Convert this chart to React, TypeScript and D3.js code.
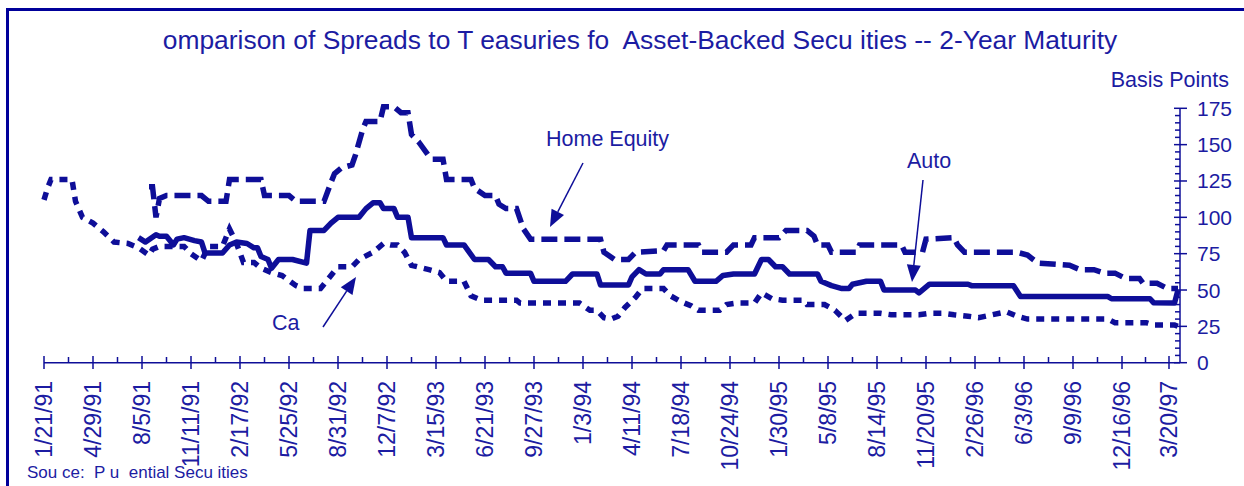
import React from "react";
import * as d3 from "d3";

// weekly spreads, [weeks since 1/21/91, basis points]
const homeEquity: [number, number][] = [
  [30, 121], [31, 121], [32, 100], [33, 113], [35, 115], [45, 115], [47, 111],
  [52, 111], [53, 126], [62, 126], [63, 115], [70, 115], [72, 111], [80, 111],
  [82, 124], [83, 130], [85, 134], [88, 136], [89, 143], [91, 160], [92, 166],
  [96, 166], [97, 176], [100, 176], [102, 172], [104, 172], [105, 157], [107, 152],
  [110, 142], [111, 140], [114, 140], [115, 126], [122, 126], [123, 120], [126, 115],
  [129, 115], [130, 109], [132, 106], [135, 106], [137, 92], [139, 85], [159, 85],
  [160, 76], [163, 71], [167, 71], [169, 76], [177, 77], [178, 81], [187, 81],
  [188, 76], [195, 76], [197, 81], [202, 81], [203, 86], [210, 86], [212, 91],
  [218, 91], [220, 87], [221, 81], [224, 81], [225, 76], [232, 76], [233, 81],
  [245, 81], [246, 76], [251, 76], [252, 85], [260, 86], [261, 81], [263, 76],
  [278, 76], [281, 74], [284, 68.5], [293, 67], [296, 64], [300, 64], [303, 61.6],
  [306, 61.6], [309, 58], [313, 58], [314, 54.7], [318, 54.7], [321, 51], [324, 51],
];

const auto: [number, number][] = [
  [27, 86], [29, 83], [32, 88], [33, 87], [35, 87], [37, 81], [38, 85], [40, 86],
  [43, 84], [45, 83], [46, 75.5], [51, 75.5], [53, 81], [55, 83], [58, 82], [60, 79],
  [61, 79], [62, 73], [64, 71], [65, 65], [67, 71], [71, 71], [75, 68.5], [76, 91],
  [80, 91], [82, 96], [84, 100], [90, 100], [92, 106], [94, 110], [96, 110], [97, 106],
  [100, 106], [101, 100], [104, 100], [105, 86], [114, 86], [115, 81], [120, 81],
  [123, 71], [127, 71], [129, 66], [131, 66], [132, 61.6], [139, 61.6], [140, 56],
  [149, 56], [151, 61], [158, 61], [159, 53.5], [167, 53.5], [168, 59], [170, 64],
  [172, 61], [176, 61], [177, 64], [184, 64], [186, 56], [192, 56], [194, 60],
  [197, 61], [203, 61], [205, 71], [207, 71], [209, 66], [211, 66], [213, 61],
  [221, 61], [222, 56], [225, 53], [228, 51], [230, 51], [231, 54], [235, 56],
  [239, 56], [240, 50], [249, 50], [250, 48], [253, 54], [264, 54], [265, 53],
  [277, 53], [279, 45.5], [304, 45.5], [305, 44], [316, 44], [317, 41.3], [323, 41],
  [324, 50],
];

const card: [number, number][] = [
  [0, 112], [1, 120], [2, 126], [8, 126], [9, 111], [11, 100], [14, 96], [17, 90],
  [20, 83], [24, 82], [27, 79], [30, 74], [31, 78], [33, 80], [40, 80], [42, 75],
  [45, 70], [47, 80], [51, 80], [53, 92], [55, 82], [57, 69], [60, 69], [62, 65],
  [65, 62], [68, 60], [72, 53], [74, 51], [79, 51], [81, 57], [84, 66], [88, 66],
  [90, 71], [94, 76], [97, 82], [99, 81], [101, 81], [103, 76], [105, 67], [110, 64],
  [113, 62], [115, 56], [120, 56], [122, 46], [125, 43], [135, 43], [136, 41],
  [153, 41], [156, 36], [158, 36], [160, 31], [162, 30], [164, 32], [166, 38],
  [169, 45], [171, 51], [177, 51], [179, 46], [182, 42], [185, 39], [187, 36],
  [193, 36], [195, 40], [198, 41], [203, 41], [205, 48], [208, 44], [211, 43],
  [217, 43], [218, 40], [223, 40], [226, 36], [229, 29], [232, 34], [236, 34],
  [239, 34], [242, 33], [250, 33], [253, 34], [257, 34], [260, 33], [264, 32],
  [267, 31], [271, 33], [275, 35], [278, 32], [281, 30], [304, 30], [306, 27.5],
  [315, 27.5], [317, 26], [323, 26], [324, 25],
];

const tickLabels = [
  "1/21/91", "4/29/91", "8/5/91", "11/11/91", "2/17/92", "5/25/92", "8/31/92",
  "12/7/92", "3/15/93", "6/21/93", "9/27/93", "1/3/94", "4/11/94", "7/18/94",
  "10/24/94", "1/30/95", "5/8/95", "8/14/95", "11/20/95", "2/26/96", "6/3/96",
  "9/9/96", "12/16/96", "3/20/97",
];
const yTicks = [0, 25, 50, 75, 100, 125, 150, 175];

const title =
  "omparison of Spreads to T easuries fo  Asset-Backed Secu ities -- 2-Year Maturity";
const source = "Sou ce:  P u  ential Secu ities";

const BLUE = "#0e0e98";
const TEXT = "#1c1ca2";
const FONT = "Arial, 'Liberation Sans', Helvetica, sans-serif";

const parse = d3.timeParse("%m/%d/%y");
const start = parse(tickLabels[0]) as Date;
const toDate = (w: number) => d3.timeDay.offset(start, w * 7);

function Arrow({ x1, y1, x2, y2 }: { x1: number; y1: number; x2: number; y2: number }) {
  const a = Math.atan2(y2 - y1, x2 - x1);
  const len = 17;
  const half = 7;
  const bx = x2 - len * Math.cos(a);
  const by = y2 - len * Math.sin(a);
  const pts = [
    [x2, y2],
    [bx + half * Math.sin(a), by - half * Math.cos(a)],
    [bx - half * Math.sin(a), by + half * Math.cos(a)],
  ];
  return (
    <g>
      <line x1={x1} y1={y1} x2={bx} y2={by} stroke={BLUE} strokeWidth={1.5} />
      <polygon points={pts.map((p) => p.join(",")).join(" ")} fill={BLUE} />
    </g>
  );
}

export default function App() {
  const width = 1244;
  const height = 486;

  const x = d3
    .scaleTime()
    .domain([start, d3.timeDay.offset(start, 2272)])
    .range([44, 1180]);
  const y = d3.scaleLinear().domain([0, 175]).range([362.7, 108.3]);

  const line = d3
    .line<[number, number]>()
    .x((d) => x(toDate(d[0])))
    .y((d) => y(d[1]));

  const tickDates = tickLabels.map((t) => parse(t) as Date);
  const minorDates = tickDates.slice(1).map(
    (d, i) => new Date((d.getTime() + tickDates[i].getTime()) / 2)
  );
  const minorY = d3.range(0, 176, 5).filter((v) => v % 25 !== 0);

  return (
    <svg
      width={width}
      height={height}
      style={{ position: "absolute", left: 0, top: 0, background: "#fff" }}
      fontFamily={FONT}
    >
      <rect x={0} y={0} width={width} height={height} fill="#fff" />
      <rect x={7.5} y={9.5} width={1300} height={600} fill="none" stroke="#00009a" strokeWidth={3} />

      <text x={640} y={49} textAnchor="middle" fontSize={26.4} fill={TEXT} style={{ whiteSpace: "pre" }}>
        {title}
      </text>

      {/* series */}
      <path d={line(card) || ""} fill="none" stroke={BLUE} strokeWidth={5.5} strokeDasharray="8,7" />
      <path d={line(homeEquity) || ""} fill="none" stroke={BLUE} strokeWidth={5.5} strokeDasharray="16,7" />
      <path d={line(auto) || ""} fill="none" stroke={BLUE} strokeWidth={5.5} strokeLinejoin="round" />

      {/* x axis */}
      <line x1={44} x2={1180} y1={362.7} y2={362.7} stroke={BLUE} strokeWidth={1.5} />
      {tickDates.map((d, i) => (
        <line key={"xt" + i} x1={x(d)} x2={x(d)} y1={356} y2={369} stroke={BLUE} strokeWidth={1.5} />
      ))}
      {minorDates.map((d, i) => (
        <line key={"xm" + i} x1={x(d)} x2={x(d)} y1={357} y2={362.7} stroke={BLUE} strokeWidth={1.5} />
      ))}
      {tickDates.map((d, i) => (
        <text
          key={"xl" + i}
          transform={`translate(${x(d)},381) rotate(-90)`}
          textAnchor="end"
          dominantBaseline="central"
          fontSize={23}
          fill={TEXT}
        >
          {tickLabels[i]}
        </text>
      ))}

      {/* y axis */}
      <line x1={1180} x2={1180} y1={y(175)} y2={y(0)} stroke={BLUE} strokeWidth={1.5} />
      {minorY.map((v) => (
        <line key={"ym" + v} x1={1175} x2={1180} y1={y(v)} y2={y(v)} stroke={BLUE} strokeWidth={1.5} />
      ))}
      {yTicks.map((v) => (
        <g key={"yt" + v}>
          <line x1={1174} x2={1187} y1={y(v)} y2={y(v)} stroke={BLUE} strokeWidth={1.5} />
          <text x={1197} y={y(v)} dominantBaseline="central" fontSize={21} fill={TEXT}>
            {v}
          </text>
        </g>
      ))}
      <text x={1229} y={87} textAnchor="end" fontSize={21.5} fill={TEXT}>
        Basis Points
      </text>

      {/* annotations */}
      <text x={546} y={146} fontSize={21.5} fill={TEXT}>Home Equity</text>
      <Arrow x1={583} y1={163} x2={550} y2={227} />
      <text x={907} y={168} fontSize={21.5} fill={TEXT}>Auto</text>
      <Arrow x1={923} y1={180} x2={912} y2={282} />
      <text x={272} y={330} fontSize={21.5} fill={TEXT}>Ca</text>
      <Arrow x1={323} y1={327} x2={356} y2={277} />

      <text x={27} y={478} fontSize={17} fill={TEXT} style={{ whiteSpace: "pre" }}>
        {source}
      </text>
    </svg>
  );
}
